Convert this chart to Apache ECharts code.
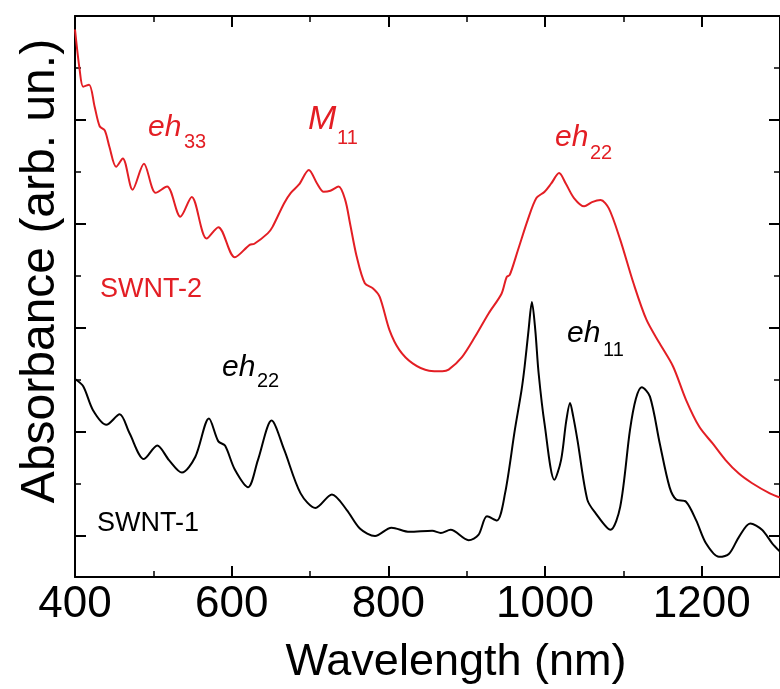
<!DOCTYPE html>
<html>
<head>
<meta charset="utf-8">
<script src="https://cdn.jsdelivr.net/npm/echarts@6/dist/echarts.min.js"></script>
<style>html,body{margin:0;padding:0;background:#fff;}#c{width:780px;height:689px;}</style>
</head>
<body>
<div id="c"></div>
<script>
// Wavelength (nm) and absorbance (arb. un.)
const swnt2Wavelength = [400,406,410.5,418,425,431.5,438,444,452.5,461,473.5,488,503,517.5,534.5,549,568,583,604,623,629,646,652,667,675.5,686,698.5,709,717.5,726,736.5,745,751,759.5,770,780.5,789,801.5,814,831,852,869,877,894,911,928,944.5,951,955,965.5,978,989,999.5,1008,1018,1026.5,1037,1050,1060,1071,1081.5,1096,1113,1129.5,1146.5,1163.5,1180,1197,1214,1230.5,1247.5,1264,1287,1300];
const swnt2Absorbance = [4.87,4.48,4.32,4.34,4.13,3.94,3.90,3.74,3.55,3.63,3.33,3.58,3.30,3.36,3.07,3.26,2.86,2.97,2.68,2.80,2.81,2.91,2.97,3.20,3.30,3.38,3.52,3.39,3.31,3.32,3.36,3.23,3.01,2.69,2.43,2.38,2.30,1.98,1.79,1.66,1.59,1.585,1.60,1.72,1.92,2.14,2.33,2.49,2.51,2.75,3.04,3.25,3.31,3.39,3.49,3.39,3.25,3.17,3.21,3.23,3.15,2.85,2.43,2.08,1.85,1.63,1.31,1.05,0.89,0.73,0.60,0.51,0.41,0.37];

const swnt1Wavelength = [400,410.5,423,440,457,469.5,488,505,520,536.5,553.5,571,583,591.5,604,621,633.5,651,667,688,707,728,747,764,783,804,827,856,867,879.5,902.5,915,926,938.5,949,961.5,970,974,979,983.3,987.6,991.8,999.4,1012,1020.5,1027,1032,1036,1041.5,1054,1064.5,1083.5,1096,1108.5,1116,1123.5,1134,1146.5,1159,1167.5,1180,1193,1205.5,1222,1235,1247.5,1262,1277,1290,1300];
const swnt1Absorbance = [1.51,1.44,1.21,1.07,1.17,0.99,0.74,0.87,0.73,0.61,0.76,1.13,0.91,0.87,0.64,0.47,0.73,1.11,0.83,0.41,0.27,0.40,0.25,0.07,0.00,0.08,0.04,0.05,0.03,0.06,-0.04,0.01,0.19,0.15,0.41,1.02,1.40,1.63,1.98,2.25,1.98,1.57,1.08,0.54,0.73,1.10,1.28,1.15,0.92,0.35,0.22,0.06,0.28,1.02,1.32,1.43,1.34,0.89,0.47,0.35,0.33,0.15,-0.07,-0.20,-0.17,-0.01,0.12,0.06,-0.07,-0.15];

const xTickLabels = [400,600,800,1000,1200];
const yMajorTicks = [0,1,2,3,4];
const yMinorTicks = [0.5,1.5,2.5,3.5,4.5];

const RED = '#e31e24';
const FONT = '"Liberation Sans", Arial, sans-serif';

const zip = (xs, ys) => xs.map((x, i) => [x, ys[i]]);

const chart = echarts.init(document.getElementById('c'), null, {renderer: 'canvas'});

const Y_MIN = -0.394, Y_MAX = 5;

function xAx(pos, showLabel) {
  return {
    type: 'value', position: pos, min: 400, max: 1300, interval: 200,
    axisLine: {show: true, onZero: false, lineStyle: {color: '#000', width: 2}},
    axisTick: {show: true, inside: true, length: 11, lineStyle: {color: '#000', width: 2}},
    minorTick: {show: true, splitNumber: 2, length: 6, lineStyle: {color: '#000', width: 1.5}},
    splitLine: {show: false},
    axisLabel: {
      show: showLabel, fontSize: 44, fontFamily: FONT, color: '#000', margin: 6,
      customValues: xTickLabels,
      formatter: v => (v > 1250 ? '' : String(v))
    }
  };
}
function yAx(pos, ticks, len, showLine) {
  return {
    type: 'value', position: pos, min: Y_MIN, max: Y_MAX,
    axisLine: {show: showLine, onZero: false, lineStyle: {color: '#000', width: 2}},
    axisTick: {show: true, inside: true, length: len, customValues: ticks, lineStyle: {color: '#000', width: len > 8 ? 2 : 1.5}},
    axisLabel: {show: false},
    splitLine: {show: false}
  };
}

function sub(main, subTxt, x, y, xs, ys, color, mainSize) {
  return [
    {type: 'text', x: x, y: y, style: {text: main, fontSize: mainSize || 30, fontStyle: 'italic', fontFamily: FONT, fill: color}},
    {type: 'text', x: xs, y: ys, style: {text: subTxt, fontSize: 20, fontFamily: FONT, fill: color}}
  ];
}

chart.setOption({
  animation: false,
  backgroundColor: '#fff',
  grid: {left: 75, top: 16, right: -8, bottom: 112, containLabel: false},
  xAxis: [xAx('bottom', true), xAx('top', false)],
  yAxis: [
    yAx('left', yMajorTicks, 11, true),
    yAx('left', yMinorTicks, 6, false),
    yAx('right', yMajorTicks, 11, true),
    yAx('right', yMinorTicks, 6, false)
  ],
  series: [
    {name: 'SWNT-2', type: 'line', data: zip(swnt2Wavelength, swnt2Absorbance), showSymbol: false, smooth: 0.3,
     lineStyle: {color: RED, width: 2}, itemStyle: {color: RED}},
    {name: 'SWNT-1', type: 'line', data: zip(swnt1Wavelength, swnt1Absorbance), showSymbol: false, smooth: 0.3,
     lineStyle: {color: '#000', width: 2}, itemStyle: {color: '#000'}}
  ],
  graphic: [
    {type: 'text', x: 41, y: 271, rotation: Math.PI / 2,
     style: {text: 'Absorbance (arb. un.)', fontSize: 48, fontFamily: FONT, fill: '#000', align: 'center', verticalAlign: 'middle'}},
    {type: 'text', x: 456, y: 663,
     style: {text: 'Wavelength (nm)', fontSize: 45, fontFamily: FONT, fill: '#000', align: 'center', verticalAlign: 'middle'}},
    ...sub('eh', '33', 148, 113, 184, 132, RED),
    ...sub('M', '11', 308, 103, 337, 128, RED, 34),
    ...sub('eh', '22', 555, 123, 590, 143, RED),
    ...sub('eh', '22', 222, 353, 257, 371, '#000'),
    ...sub('eh', '11', 567, 319, 603, 340, '#000'),
    {type: 'text', x: 100, y: 276, style: {text: 'SWNT-2', fontSize: 27, fontFamily: FONT, fill: RED}},
    {type: 'text', x: 97, y: 510, style: {text: 'SWNT-1', fontSize: 27, fontFamily: FONT, fill: '#000'}}
  ]
});
</script>
</body>
</html>
